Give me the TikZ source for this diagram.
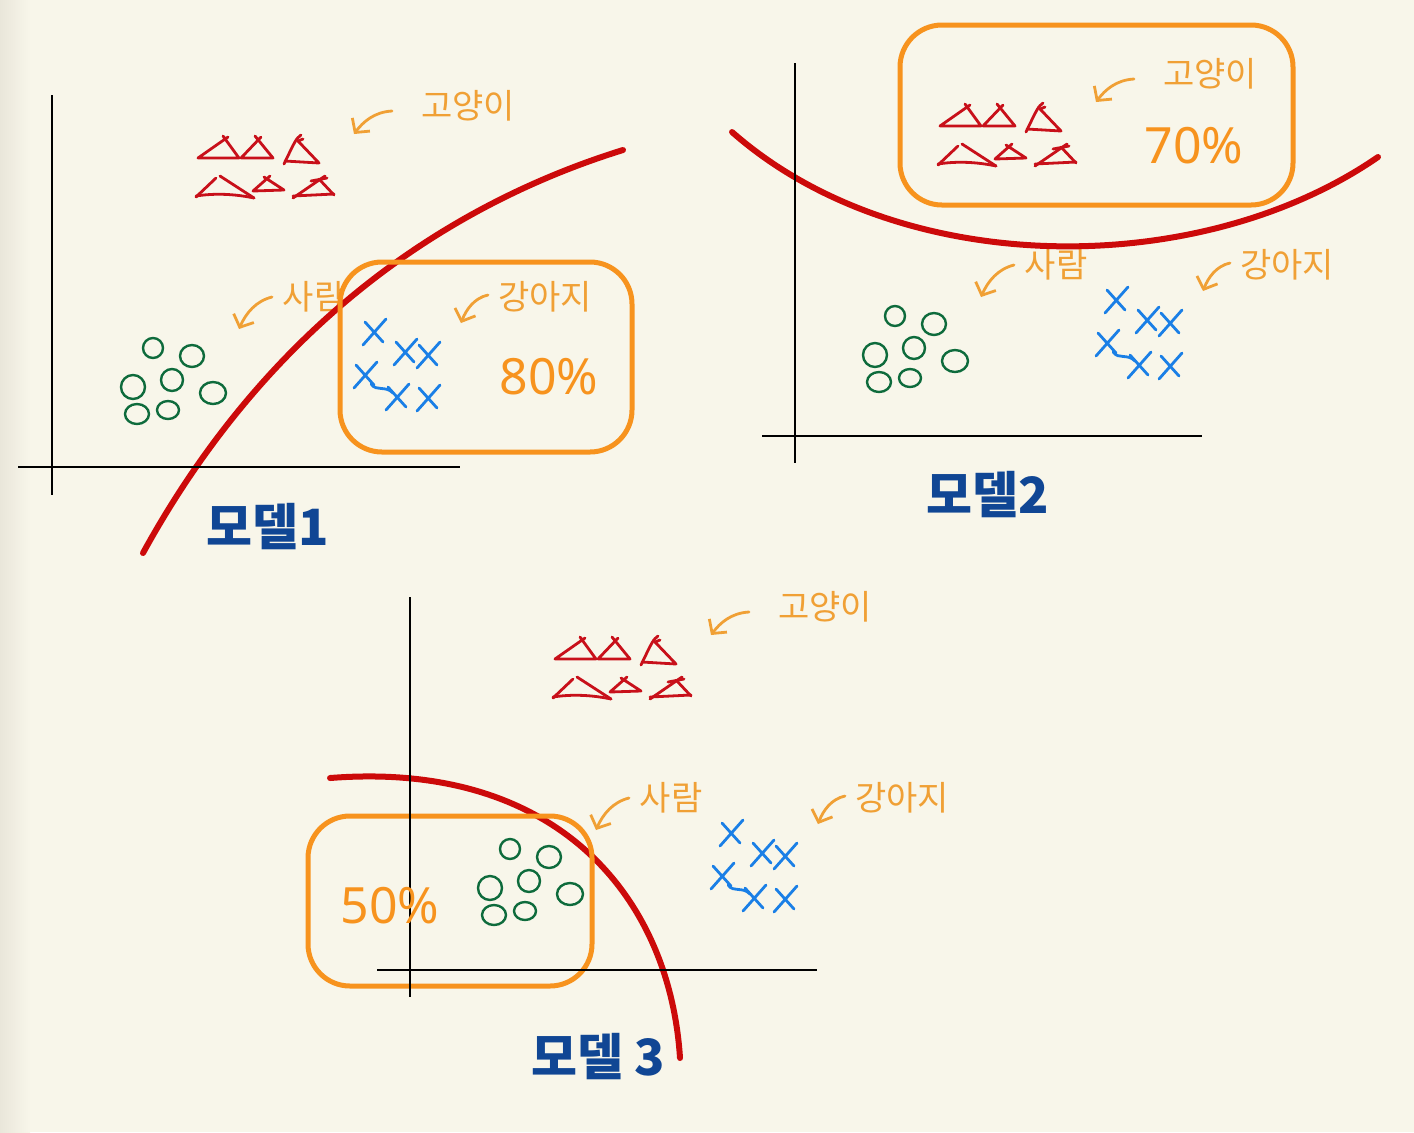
\documentclass[tikz,border=0pt]{standalone}
\usepackage{fontspec}
\newfontfamily\kr{Noto Sans CJK KR}
\newfontfamily\pct{Noto Sans}
\usetikzlibrary{arrows.meta}
\definecolor{bg}{HTML}{F8F6EA}
\definecolor{bgedge}{HTML}{E9E6DA}
\definecolor{curvered}{HTML}{CC0A0A}
\definecolor{trired}{HTML}{C8101A}
\definecolor{boxorange}{HTML}{F7931E}
\definecolor{lblorange}{HTML}{F0A035}
\definecolor{dotgreen}{HTML}{0E6B3C}
\definecolor{xblue}{HTML}{1A7FE6}
\definecolor{modelblue}{HTML}{104694}
\tikzset{
 tri/.style={draw=trired, line width=1.4pt, line cap=round, line join=round},
 dot/.style={draw=dotgreen, line width=1.2pt},
 xmark/.style={draw=xblue, line width=1.4pt, line cap=round},
 lbl/.style={text=lblorange, font=\kr\fontsize{17}{17}\selectfont, inner sep=0pt},
 larrow/.style={draw=lblorange, line width=1.4pt, line cap=round, -{Straight Barb[length=5pt,width=11pt]}},
 axis/.style={draw=black, line width=1pt},
 boundary/.style={draw=curvered, line width=3pt, line cap=round},
 hbox/.style={draw=boxorange, line width=2.5pt, rounded corners=21pt},
 pcttext/.style={text=boxorange, font=\pct\fontsize{25}{25}\selectfont, inner sep=0pt},
 model/.style={text=modelblue, font=\kr\bfseries\fontsize{25}{25}\selectfont, inner sep=0pt},
}
\newcommand\drawcluster{%
 % cats (triangles)
 \draw[tri] (228,137) -- (198,158) -- (239,158) -- (223,136);
 \draw[tri] (261,137) -- (241,158) -- (273,158) -- (255,136);
 \draw[tri] (301,135) .. controls (296,139) .. (284,164);
 \draw[tri] (285,161) -- (319,163) -- (298,141) -- (303,139);
 \draw[tri] (196,197) -- (216,178);
 \draw[tri] (220,176) -- (254,198);
 \draw[tri] (196,196) .. controls (215,193) and (235,194) .. (254,198);
 \draw[tri] (270,176) -- (253,191) -- (284,190) -- (264,177);
 \draw[tri] (293,198) -- (325,176);
 \draw[tri] (319,179) -- (334,195);
 \draw[tri] (293,196) -- (334,194);
 \draw[tri] (311,181) -- (327,178);
 % people (circles)
 \draw[dot] (153,348) ellipse [x radius=10, y radius=10];
 \draw[dot] (192,356) ellipse [x radius=12, y radius=11];
 \draw[dot] (172,380) ellipse [x radius=11, y radius=11];
 \draw[dot] (133,387) ellipse [x radius=12, y radius=12];
 \draw[dot] (213,393) ellipse [x radius=13, y radius=11];
 \draw[dot] (137,414) ellipse [x radius=12, y radius=10];
 \draw[dot] (168,410) ellipse [x radius=11, y radius=9];
 % dogs (crosses)
 \foreach \p in {(374,332),(405,352),(428,355),(365,375),(397,397),(428,398)}{
   \draw[xmark, shift={\p}] (12,-13) -- (-11,13) (-9,-10) -- (9,10);
 }
 \draw[xmark] (371,384) .. controls (377,392) and (385,385) .. (393,393);
 % labels
 \node[lbl] (cat) at (468,106) {고양이};
 \node[lbl] (person) at (314,297) {사람};
 \node[lbl] (dog) at (545,297) {강아지};
 \coordinate (catfrom) at (392,111);
 \coordinate (catto) at (354,134);
 \draw[larrow] (catfrom) .. controls (374,112) and (363,122) .. (catto);
 \coordinate (personfrom) at (272,297);
 \coordinate (personto) at (239,329);
 \draw[larrow] (personfrom) .. controls (256,301) and (246,313) .. (personto);
 \coordinate (dogfrom) at (488,295);
 \coordinate (dogto) at (461,323);
 \draw[larrow] (dogfrom) .. controls (474,298) and (466,310) .. (dogto);
}
\begin{document}
\begin{tikzpicture}[x=0.5pt,y=-0.5pt]
\fill[bg] (0,0) rectangle (1414,1132);
\shade[left color=bgedge, right color=bg] (0,0) rectangle (30,1132);
\useasboundingbox (0,0) rectangle (1414,1132);
% clusters
\begin{scope}[name prefix=p1-]
 \drawcluster
\end{scope}
\begin{scope}[shift={(742,-32)}, name prefix=p2-]
 \drawcluster
\end{scope}
\begin{scope}[shift={(357,501)}, name prefix=p3-]
 \drawcluster
\end{scope}
% decision boundaries
\draw[boundary] (143,553) .. controls (260,340) and (430,210) .. (623,150);
\draw[boundary] (732,132) .. controls (900,280) and (1200,280) .. (1378,157);
\draw[boundary] (330,778) .. controls (560,760) and (670,900) .. (680,1058);
% highlight boxes
\draw[hbox] (340,262) rectangle (632,452);
\draw[hbox] (900,25) rectangle (1293,205);
\draw[hbox] (308,816) rectangle (592,986);
% axes
\draw[axis] (52,95) -- (52,495);
\draw[axis] (18,467) -- (460,467);
\draw[axis] (795,63) -- (795,463);
\draw[axis] (762,436) -- (1202,436);
\draw[axis] (410,597) -- (410,997);
\draw[axis] (377,970) -- (817,970);
% percentages
\node[pcttext] (pct1) at (549,377) {80\%};
\node[pcttext] (pct2) at (1194,146) {70\%};
\node[pcttext] (pct3) at (390,906) {50\%};
% model titles
\node[model] (m1) at (268,527) {모델1};
\node[model] (m2) at (988,495) {모델2};
\node[model] (m3) at (598,1057) {모델 3};
\end{tikzpicture}
\end{document}
